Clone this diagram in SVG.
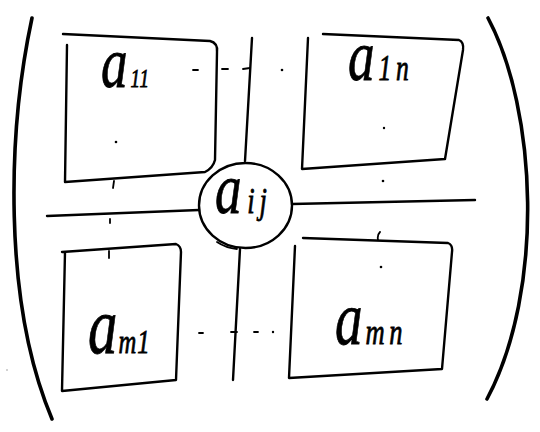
<svg xmlns="http://www.w3.org/2000/svg" width="540" height="432" viewBox="0 0 540 432">
<style>
.ln{fill:none;stroke:#000;stroke-width:2.4;stroke-linecap:round;stroke-linejoin:round}
.pa{fill:none;stroke:#000;stroke-width:3.6;stroke-linecap:round}
.tk{fill:none;stroke:#000;stroke-width:1.8;stroke-linecap:round}
.dt{fill:#000}
.tx{font-family:"Liberation Serif","DejaVu Serif",serif;font-style:italic;fill:#000;stroke:#000;stroke-width:0.6}
</style>
<rect width="540" height="432" fill="#fff"/>
<g id="brackets">
<path class="pa" d="M32,18 C8,130 2,300 52,419"/>
<path class="pa" d="M488,18 C537,110 545,290 487,399"/>
</g>
<g id="connectors">
<path class="ln" d="M252,38 L245,161"/>
<path class="ln" d="M240,249 L233,380"/>
<path class="ln" d="M47,216 L199,210"/>
<path class="ln" d="M292,204 L475,200"/>
<path class="tk" d="M193,70 L198,70 M222,69 L228,69 M243,69 L250,68"/>
<path class="tk" d="M199,333 L203,333 M231,332 L237,332 M254,332 L258,332"/>
<path class="tk" d="M114,181 L113,188 M110,219 L110,223 M109,251 L109,258 M380,232 Q377,235 378,240"/>
<circle class="dt" cx="116" cy="142" r="1.3"/>
<circle class="dt" cx="282" cy="70" r="1.3"/>
<circle class="dt" cx="384" cy="128" r="1.2"/>
<circle class="dt" cx="383" cy="181" r="1.3"/>
<circle class="dt" cx="381" cy="267" r="1.3"/>
<circle class="dt" cx="273" cy="332" r="1.2"/>
<circle cx="7" cy="370" r="0.8" fill="#999"/>
</g>
<g id="a11">
<path class="ln" d="M67,45 L65,182 L205,172 Q213,168 215,160 L217,52 Q218,43 210,41 L63,34"/>
<text class="tx" transform="translate(101,87) scale(0.95,1.3)" font-size="56">a<tspan font-size="20" dx="3" letter-spacing="1">11</tspan></text>
</g>
<g id="a1n">
<path class="ln" d="M323,34 L459,40 Q464,42 463,50 L445,159 L302,169 L308,38"/>
<text class="tx" transform="translate(348,80) scale(0.95,1.3)" font-size="56">a<tspan font-size="27" dx="4" letter-spacing="5">1n</tspan></text>
</g>
<g id="aij">
<ellipse class="ln" cx="245.5" cy="205.5" rx="46.5" ry="42.5"/>
<path class="tk" d="M217,242 Q226,248 237,249"/>
<text class="tx" transform="translate(215,213) scale(0.95,1.3)" font-size="56">a<tspan font-size="28" dx="6" letter-spacing="5">ij</tspan></text>
</g>
<g id="am1">
<path class="ln" d="M65,252 L62,391 L176,380 L181,252 Q181,246 176,244 L62,252"/>
<text class="tx" transform="translate(88,353) scale(0.95,1.3)" font-size="62">a<tspan font-size="26" dx="1" letter-spacing="1">m1</tspan></text>
</g>
<g id="amn">
<path class="ln" d="M303,238 L448,243 Q453,245 452,252 L442,369 L289,378 L295,246"/>
<text class="tx" transform="translate(335,344) scale(0.95,1.3)" font-size="58">a<tspan font-size="28" dx="3" letter-spacing="5">mn</tspan></text>
</g>
</svg>
